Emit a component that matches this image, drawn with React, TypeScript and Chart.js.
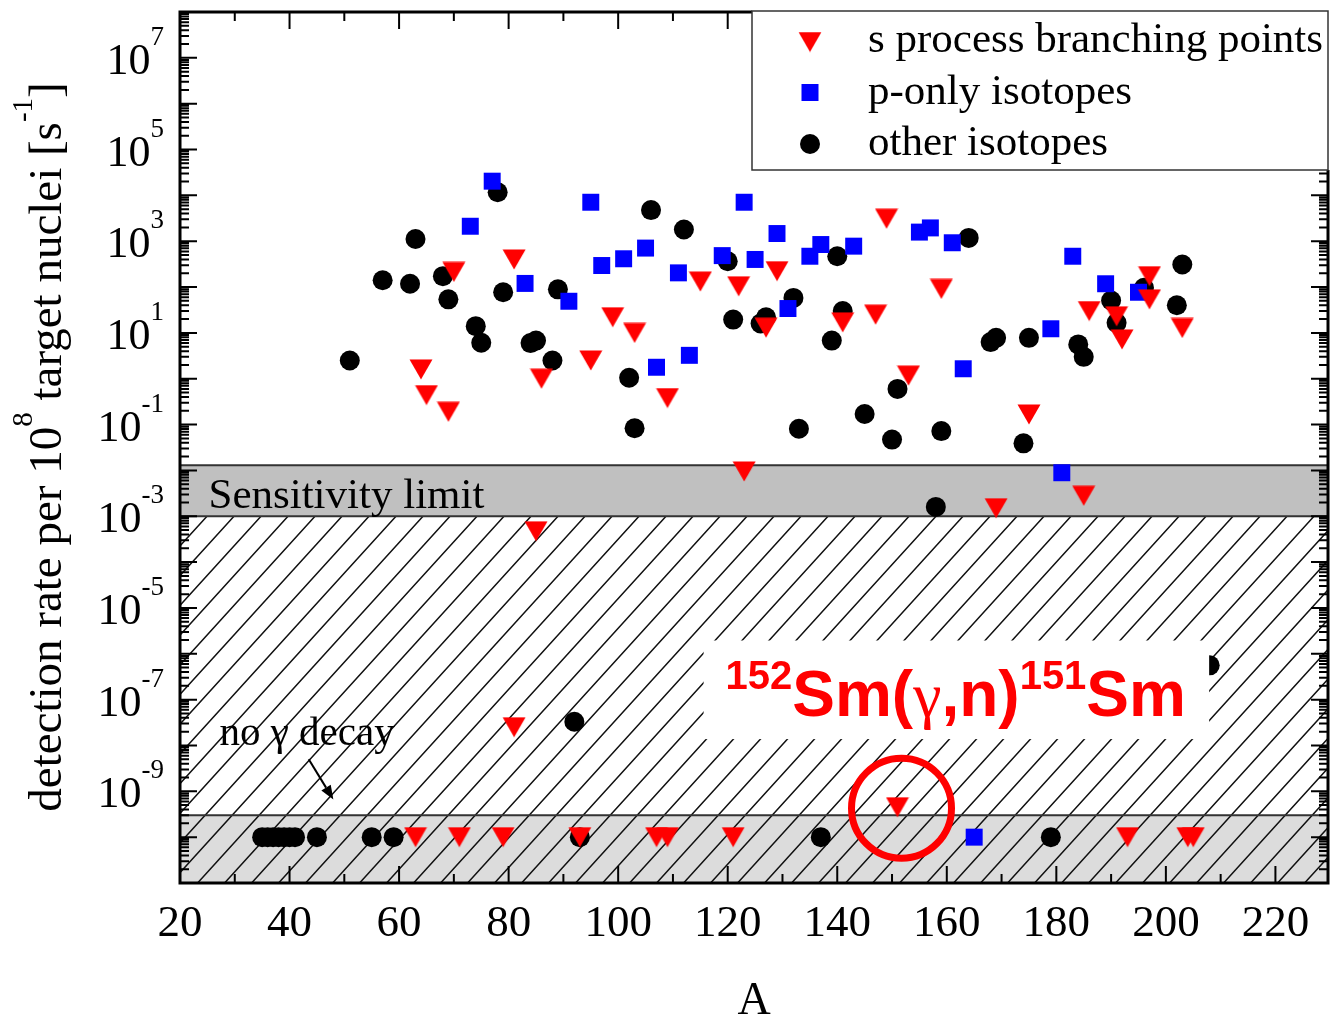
import React, { useEffect, useRef } from "react";
import { Chart, registerables } from "chart.js";

Chart.register(...registerables);

// ---------- axes ----------
const X_MIN = 20;
const X_MAX = 229.6;
const Y_MIN = 1e-11;
const Y_MAX = 1e8;
const xTickValues = [20, 40, 60, 80, 100, 120, 140, 160, 180, 200, 220];
const yLabelExponents = [7, 5, 3, 1, -1, -3, -5, -7, -9];

// ---------- regions ----------
const sensitivityBand = [1e-3, 1.3e-2];
const noDecayBand = [1e-11, 3e-10];
const hatchTop = 1e-3;
const noDecayLevel = 1e-10;

// ---------- s process branching points ----------
const sBranchA = [64, 65, 69, 70, 81, 86, 95, 99, 103, 109, 115, 122, 123, 127, 129, 141, 147, 149, 153, 159, 175, 186, 191, 192, 197, 197, 203, 185, 169, 85, 81, 151];
const sBranchRate = [1.6, 0.44, 0.19, 214, 400, 1.0, 2.5, 22, 10, 0.38, 132, 104, 0.0095, 13, 222, 17, 25, 3090, 1.17, 91, 0.166, 30, 23, 7.2, 173, 54, 12.8, 0.0028, 0.0015, 4.7e-4, 2.5e-8, 4.5e-10];
const sBranchNoDecayA = [63, 71, 79, 93, 107, 109, 121, 193, 204, 205];

// ---------- p-only isotopes ----------
const pOnlyA = [73, 77, 83, 91, 95, 97, 101, 105, 107, 111, 113, 119, 123, 125, 129, 131, 135, 137, 143, 155, 157, 161, 163, 179, 181, 183, 189, 195];
const pOnlyRate = [2120, 20400, 120, 49, 7080, 295, 414, 708, 1.78, 204, 3.24, 485, 7080, 400, 1470, 34, 470, 846, 780, 1580, 1950, 925, 1.65, 12.3, 0.0089, 470, 118, 77];
const pOnlyNoDecayA = [165];

// ---------- other isotopes ----------
const otherA = [51, 57, 62, 63, 68, 69, 74, 75, 78, 79, 84, 85, 88, 89, 92, 102, 103, 106, 112, 120, 121, 126, 127, 132, 133, 139, 140, 141, 145, 150, 151, 158, 159, 164, 168, 169, 174, 175, 184, 185, 190, 191, 196, 202, 203, 208];
const otherRate = [2.5, 141, 118, 1120, 173, 54, 14, 6.1, 11700, 77, 6.0, 6.8, 2.5, 89, 3.3e-8, 1.05, 0.083, 4770, 1800, 366, 19.5, 16, 22, 58, 0.081, 6.8, 470, 30, 0.17, 0.047, 0.6, 0.0016, 0.072, 1180, 6.3, 7.8, 0.039, 7.8, 5.6, 3.0, 51, 16.6, 96, 40, 310, 5.6e-7];
const otherNoDecayA = [35, 36, 37, 38, 39, 40, 41, 45, 55, 59, 93, 137, 179];

// ---------- labels ----------
const legendLabels = ["s process branching points", "p-only isotopes", "other isotopes"];
const seriesColors = ["#ff0000", "#0000ff", "#000000"];

// ---------- annotations (data coordinates) ----------
const highlightA = 151;
const highlightRate = 4.5e-10;
const reactionTextAnchor = { x: 119.6, y: 4.5e-8 };
const reactionBox = { x0: 115.6, x1: 207.9, yTop: 1.95e-6, yBottom: 1.38e-8 };
const sensitivityTextAnchor = { x: 25.2, y: 1.48e-3 };
const noDecayTextAnchor = { x: 27.2, y: 1.0e-8 };
const noDecayArrow = { x0: 43.5, y0: 5.0e-9, x1: 48.0, y1: 6.6e-10 };

const SERIF = "'Liberation Serif', 'Times New Roman', serif";
const SANS = "'Liberation Sans', Arial, sans-serif";

type Run = { t: string; size: number; dy: number; family?: string; weight?: string };

function runFont(r: Run, family: string, weight: string) {
  const w = r.weight !== undefined ? r.weight : weight;
  return `${w} ${r.size}px ${r.family || family}`.trim();
}

function runsWidth(ctx: CanvasRenderingContext2D, runs: Run[], family: string, weight = "") {
  let w = 0;
  for (const r of runs) {
    ctx.font = runFont(r, family, weight);
    w += ctx.measureText(r.t).width;
  }
  return w;
}

function drawRuns(ctx: CanvasRenderingContext2D, runs: Run[], x: number, y: number, family: string, weight = "") {
  let cx = x;
  for (const r of runs) {
    ctx.font = runFont(r, family, weight);
    ctx.fillText(r.t, cx, y + r.dy);
    cx += ctx.measureText(r.t).width;
  }
}

function makeTriangle(color: string) {
  const c = document.createElement("canvas");
  c.width = 24;
  c.height = 21;
  const g = c.getContext("2d")!;
  g.fillStyle = color;
  g.beginPath();
  g.moveTo(0.5, 0.5);
  g.lineTo(23.5, 0.5);
  g.lineTo(12, 20.5);
  g.closePath();
  g.fill();
  return c;
}

function drawLegendSymbol(ctx: CanvasRenderingContext2D, i: number, x: number, y: number, tri: HTMLCanvasElement) {
  ctx.fillStyle = seriesColors[i];
  if (i === 0) {
    ctx.drawImage(tri, x - tri.width / 2, y - tri.height / 2);
  } else if (i === 1) {
    ctx.fillRect(x - 8.5, y - 8.5, 17, 17);
  } else {
    ctx.beginPath();
    ctx.arc(x, y, 10, 0, Math.PI * 2);
    ctx.fill();
  }
}

export default function App() {
  const ref = useRef<HTMLCanvasElement>(null);

  useEffect(() => {
    const canvas = ref.current;
    if (!canvas) return;
    const tri = makeTriangle(seriesColors[0]);

    const toPts = (a: number[], v: number[]) => a.map((x, i) => ({ x, y: v[i] }));
    const levelPts = (a: number[]) => a.map((x) => ({ x, y: noDecayLevel }));

    const decor = {
      id: "decor",
      beforeDatasetsDraw(chart: any) {
        const { ctx, chartArea: ca } = chart;
        const y = chart.scales.y;
        const x = chart.scales.x;
        ctx.save();
        ctx.beginPath();
        ctx.rect(ca.left, ca.top, ca.right - ca.left, ca.bottom - ca.top);
        ctx.clip();

        const sTop = y.getPixelForValue(sensitivityBand[1]);
        const sBot = y.getPixelForValue(sensitivityBand[0]);
        ctx.fillStyle = "#c0c0c0";
        ctx.fillRect(ca.left, sTop, ca.right - ca.left, sBot - sTop);

        const nTop = y.getPixelForValue(noDecayBand[1]);
        const nBot = y.getPixelForValue(noDecayBand[0]);
        ctx.fillStyle = "#dcdcdc";
        ctx.fillRect(ca.left, nTop, ca.right - ca.left, nBot - nTop);

        // hatch
        const hTop = y.getPixelForValue(hatchTop);
        ctx.save();
        ctx.beginPath();
        ctx.rect(ca.left, hTop, ca.right - ca.left, ca.bottom - hTop);
        ctx.clip();
        ctx.strokeStyle = "#111";
        ctx.lineWidth = 1.5;
        const h = ca.bottom - hTop;
        const run = h / 1.1;
        const spacing = 27;
        ctx.beginPath();
        for (let x0 = ca.left - run - spacing; x0 < ca.right + spacing; x0 += spacing) {
          ctx.moveTo(x0, ca.bottom);
          ctx.lineTo(x0 + run, hTop);
        }
        ctx.stroke();
        ctx.restore();

        // band borders
        ctx.strokeStyle = "#333";
        ctx.lineWidth = 2;
        ctx.beginPath();
        for (const py of [sTop, sBot, nTop]) {
          ctx.moveTo(ca.left, py);
          ctx.lineTo(ca.right, py);
        }
        ctx.stroke();

        // Sensitivity limit text
        ctx.fillStyle = "#000";
        ctx.font = `43px ${SERIF}`;
        ctx.textAlign = "left";
        ctx.textBaseline = "alphabetic";
        ctx.fillText("Sensitivity limit", x.getPixelForValue(sensitivityTextAnchor.x), y.getPixelForValue(sensitivityTextAnchor.y));
        ctx.restore();
      },
      afterDatasetsDraw(chart: any) {
        const { ctx, chartArea: ca } = chart;
        const y = chart.scales.y;
        const x = chart.scales.x;
        ctx.save();
        ctx.textAlign = "left";
        ctx.textBaseline = "alphabetic";

        // no gamma decay text + arrow
        ctx.fillStyle = "#000";
        ctx.font = `41px ${SERIF}`;
        ctx.fillText("no \u03b3 decay", x.getPixelForValue(noDecayTextAnchor.x), y.getPixelForValue(noDecayTextAnchor.y));
        {
          const ax0 = x.getPixelForValue(noDecayArrow.x0);
          const ay0 = y.getPixelForValue(noDecayArrow.y0);
          const ax1 = x.getPixelForValue(noDecayArrow.x1);
          const ay1 = y.getPixelForValue(noDecayArrow.y1);
          const ang = Math.atan2(ay1 - ay0, ax1 - ax0);
          const L = 14;
          const W = 5.5;
          const bx = ax1 - L * Math.cos(ang);
          const by = ay1 - L * Math.sin(ang);
          ctx.strokeStyle = "#000";
          ctx.lineWidth = 2;
          ctx.beginPath();
          ctx.moveTo(ax0, ay0);
          ctx.lineTo(bx, by);
          ctx.stroke();
          ctx.beginPath();
          ctx.moveTo(ax1, ay1);
          ctx.lineTo(bx - W * Math.sin(ang), by + W * Math.cos(ang));
          ctx.lineTo(bx + W * Math.sin(ang), by - W * Math.cos(ang));
          ctx.closePath();
          ctx.fill();
        }

        // reaction label box
        const bx0 = x.getPixelForValue(reactionBox.x0);
        const bx1 = x.getPixelForValue(reactionBox.x1);
        const by0 = y.getPixelForValue(reactionBox.yTop);
        const by1 = y.getPixelForValue(reactionBox.yBottom);
        ctx.fillStyle = "#ffffff";
        ctx.fillRect(bx0, by0, bx1 - bx0, by1 - by0);
        ctx.fillStyle = "#ff0000";
        const F = 64;
        const f = 40;
        const runs: Run[] = [
          { t: "152", size: f, dy: -27 },
          { t: "Sm(", size: F, dy: 0 },
          { t: "\u03b3", size: F, dy: 0, family: SERIF, weight: "" },
          { t: ",n)", size: F, dy: 0 },
          { t: "151", size: f, dy: -27 },
          { t: "Sm", size: F, dy: 0 },
        ];
        drawRuns(ctx, runs, x.getPixelForValue(reactionTextAnchor.x), y.getPixelForValue(reactionTextAnchor.y), SANS, "bold");

        // highlight circle
        const cx = x.getPixelForValue(highlightA) + 4;
        const cy = y.getPixelForValue(highlightRate) + 1;
        ctx.strokeStyle = "#ff0000";
        ctx.lineWidth = 7;
        ctx.beginPath();
        ctx.arc(cx, cy, 50, 0, Math.PI * 2);
        ctx.stroke();

        // ticks (inward, on all four sides)
        ctx.strokeStyle = "#000";
        ctx.lineWidth = 2;
        ctx.beginPath();
        for (let e = -11; e <= 8; e++) {
          for (let m = 1; m <= 9; m++) {
            const v = m * Math.pow(10, e);
            if (v < Y_MIN * 0.999 || v > Y_MAX * 1.001) continue;
            const py = y.getPixelForValue(v);
            const len = m === 1 ? 17 : 9;
            ctx.moveTo(ca.left, py);
            ctx.lineTo(ca.left + len, py);
            ctx.moveTo(ca.right, py);
            ctx.lineTo(ca.right - len, py);
          }
        }
        for (let v = 20; v <= X_MAX; v += 10) {
          const px = x.getPixelForValue(v);
          const len = v % 20 === 0 ? 17 : 9;
          ctx.moveTo(px, ca.top);
          ctx.lineTo(px, ca.top + len);
          ctx.moveTo(px, ca.bottom);
          ctx.lineTo(px, ca.bottom - len);
        }
        ctx.stroke();

        // frame
        ctx.lineWidth = 3;
        ctx.strokeRect(ca.left, ca.top, ca.right - ca.left, ca.bottom - ca.top);

        // y tick labels 10^n
        ctx.fillStyle = "#000";
        for (const e of yLabelExponents) {
          const py = y.getPixelForValue(Math.pow(10, e));
          const runsY: Run[] = [
            { t: "10", size: 44, dy: 16 },
            { t: e < 0 ? "-" + Math.abs(e) : String(e), size: 27, dy: -13 },
          ];
          const w = runsWidth(ctx, runsY, SERIF);
          drawRuns(ctx, runsY, ca.left - 16 - w, py, SERIF);
        }

        // y title
        ctx.save();
        ctx.translate(61, 447);
        ctx.rotate(-Math.PI / 2);
        const titleRuns: Run[] = [
          { t: "detection rate per 10", size: 47, dy: 0 },
          { t: "8", size: 29, dy: -29 },
          { t: " target nuclei [s", size: 47, dy: 0 },
          { t: "-1", size: 29, dy: -29 },
          { t: "]", size: 47, dy: 0 },
        ];
        const tw = runsWidth(ctx, titleRuns, SERIF);
        drawRuns(ctx, titleRuns, -tw / 2, 0, SERIF);
        ctx.restore();

        // x title
        ctx.font = `46px ${SERIF}`;
        ctx.textAlign = "center";
        ctx.fillText("A", (ca.left + ca.right) / 2, 1014);
        ctx.textAlign = "left";

        // legend
        const lx0 = ca.right - 576;
        const ly0 = ca.top - 2;
        const lw = 578;
        const lh = 160;
        ctx.fillStyle = "#ffffff";
        ctx.fillRect(lx0, ly0, lw, lh);
        ctx.strokeStyle = "#333";
        ctx.lineWidth = 1.5;
        ctx.strokeRect(lx0, ca.top - 1, ca.right - lx0, lh - 1);
        for (let i = 0; i < legendLabels.length; i++) {
          const rowY = ca.top + 29 + i * 51.5;
          drawLegendSymbol(ctx, i, lx0 + 58, rowY + (i === 0 ? 1 : 0), tri);
          ctx.fillStyle = "#000";
          ctx.font = `43px ${SERIF}`;
          ctx.fillText(legendLabels[i], lx0 + 116, rowY + 11);
        }
        ctx.restore();
      },
    };

    const chart = new Chart(canvas, {
      type: "scatter",
      data: {
        datasets: [
          {
            label: legendLabels[0],
            data: [...toPts(sBranchA, sBranchRate), ...levelPts(sBranchNoDecayA)],
            pointStyle: tri as any,
            pointRadius: 12,
            backgroundColor: seriesColors[0],
            borderColor: seriesColors[0],
            borderWidth: 0,
          },
          {
            label: legendLabels[1],
            data: [...toPts(pOnlyA, pOnlyRate), ...levelPts(pOnlyNoDecayA)],
            pointStyle: "rect",
            pointRadius: 12,
            backgroundColor: seriesColors[1],
            borderColor: seriesColors[1],
            borderWidth: 0,
          },
          {
            label: legendLabels[2],
            data: [...toPts(otherA, otherRate), ...levelPts(otherNoDecayA)],
            pointStyle: "circle",
            pointRadius: 10,
            backgroundColor: seriesColors[2],
            borderColor: seriesColors[2],
            borderWidth: 0,
          },
        ],
      },
      options: {
        responsive: false,
        animation: false,
        devicePixelRatio: 1,
        events: [],
        layout: { autoPadding: false, padding: { top: 12, right: 2, left: 0, bottom: 0 } },
        plugins: { legend: { display: false }, tooltip: { enabled: false } },
        scales: {
          x: {
            type: "linear",
            min: X_MIN,
            max: X_MAX,
            grid: { display: false, drawTicks: false },
            border: { display: false },
            afterBuildTicks: (s: any) => {
              s.ticks = xTickValues.map((v) => ({ value: v }));
            },
            afterFit: (s: any) => {
              s.height = 137;
              s.paddingLeft = 0;
              s.paddingRight = 0;
            },
            ticks: {
              autoSkip: false,
              maxRotation: 0,
              padding: 14,
              color: "#000",
              font: { family: SERIF, size: 45 },
              callback: (v: any) => String(v),
            },
          },
          y: {
            type: "logarithmic",
            min: Y_MIN,
            max: Y_MAX,
            grid: { display: false, drawTicks: false },
            border: { display: false },
            ticks: { display: false },
            afterFit: (s: any) => {
              s.width = 180;
              s.paddingTop = 0;
              s.paddingBottom = 0;
            },
          },
        },
      },
      plugins: [decor],
    } as any);

    return () => chart.destroy();
  }, []);

  return (
    <div style={{ position: "absolute", left: 0, top: 0, width: 1330, height: 1020, background: "#fff" }}>
      <canvas ref={ref} width={1330} height={1020} style={{ display: "block", width: 1330, height: 1020 }} />
    </div>
  );
}
